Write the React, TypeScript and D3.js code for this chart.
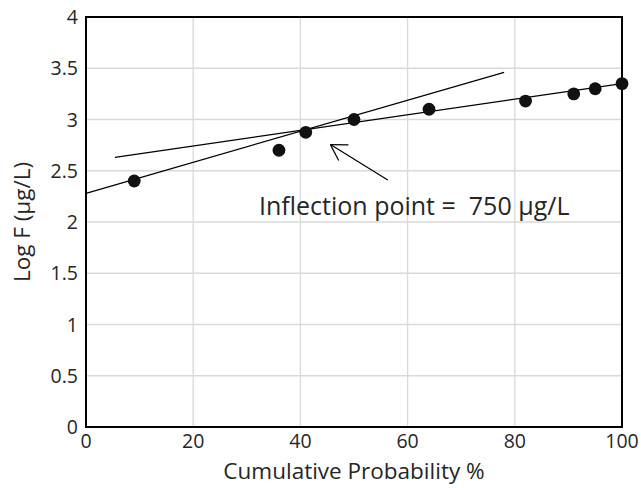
import React from "react";
import * as d3 from "d3";

const pointsX = [9, 36, 41, 50, 64, 82, 91, 95, 100];
const pointsY = [2.4, 2.7, 2.875, 3.0, 3.1, 3.18, 3.25, 3.3, 3.35];
const steepLineX = [0, 78];
const steepLineY = [2.28, 3.46];
const shallowLineX = [5.4, 100];
const shallowLineY = [2.63, 3.35];
const arrowFrom = [56.3, 2.41];
const arrowTo = [45.6, 2.755];
const xTicks = [0, 20, 40, 60, 80, 100];
const yTicks = [0, 0.5, 1, 1.5, 2, 2.5, 3, 3.5, 4];
const annotation = "Inflection point =  750 µg/L";
const xTitle = "Cumulative Probability %";
const yTitle = "Log F (µg/L)";

export default function App() {
  const W = 641, H = 488;
  const left = 86, right = 622, top = 17, bottom = 427;
  const x = d3.scaleLinear().domain([0, 100]).range([left, right]);
  const y = d3.scaleLinear().domain([0, 4]).range([bottom, top]);
  const font = "'Open Sans', 'Liberation Sans', sans-serif";
  const line = d3.line<[number, number]>().x(d => x(d[0])).y(d => y(d[1]));

  const ax = x(arrowTo[0]), ay = y(arrowTo[1]);
  const bx = x(arrowFrom[0]), by = y(arrowFrom[1]);
  const ang = Math.atan2(by - ay, bx - ax);
  const hl = 18, spread = 0.54;
  const h1 = [ax + hl * Math.cos(ang + spread), ay + hl * Math.sin(ang + spread)];
  const h2 = [ax + hl * Math.cos(ang - spread), ay + hl * Math.sin(ang - spread)];

  return (
    <svg width={W} height={H} style={{ position: "absolute", left: 0, top: 0, background: "#fff" }}>
      {xTicks.filter(t => t > 0 && t < 100).map(t => (
        <line key={"gx" + t} x1={x(t)} x2={x(t)} y1={top} y2={bottom} stroke="#d9d9d9" strokeWidth={1.3} />
      ))}
      {yTicks.filter(t => t > 0 && t < 4).map(t => (
        <line key={"gy" + t} x1={left} x2={right} y1={y(t)} y2={y(t)} stroke="#d9d9d9" strokeWidth={1.3} />
      ))}
      <rect x={left} y={top} width={right - left} height={bottom - top} fill="none" stroke="#000" strokeWidth={2} />
      {xTicks.map(t => (
        <text key={"tx" + t} x={x(t)} y={bottom + 21} textAnchor="middle" fontFamily={font} fontSize={19.5} fill="#262626">{t}</text>
      ))}
      {yTicks.map(t => (
        <text key={"ty" + t} x={left - 8} y={y(t) + 7} textAnchor="end" fontFamily={font} fontSize={19.5} fill="#262626">{t}</text>
      ))}
      <text x={(left + right) / 2} y={479} textAnchor="middle" fontFamily={font} fontSize={22.5} fill="#262626">{xTitle}</text>
      <text transform={`translate(30, ${(top + bottom) / 2}) rotate(-90)`} textAnchor="middle" fontFamily={font} fontSize={22.5} fill="#262626">{yTitle}</text>
      <path d={line(steepLineX.map((v, i) => [v, steepLineY[i]]) as [number, number][]) || ""} fill="none" stroke="#000" strokeWidth={1.3} />
      <path d={line(shallowLineX.map((v, i) => [v, shallowLineY[i]]) as [number, number][]) || ""} fill="none" stroke="#000" strokeWidth={1.3} />
      {pointsX.map((v, i) => (
        <circle key={"p" + i} cx={x(v)} cy={y(pointsY[i])} r={6.4} fill="#111" />
      ))}
      <line x1={bx} y1={by} x2={ax} y2={ay} stroke="#000" strokeWidth={1.2} />
      <line x1={ax} y1={ay} x2={h1[0]} y2={h1[1]} stroke="#000" strokeWidth={1.2} />
      <line x1={ax} y1={ay} x2={h2[0]} y2={h2[1]} stroke="#000" strokeWidth={1.2} />
      <text x={259} y={215} fontFamily={font} fontSize={25} fill="#262626" style={{ whiteSpace: "pre" }}>{annotation}</text>
    </svg>
  );
}
